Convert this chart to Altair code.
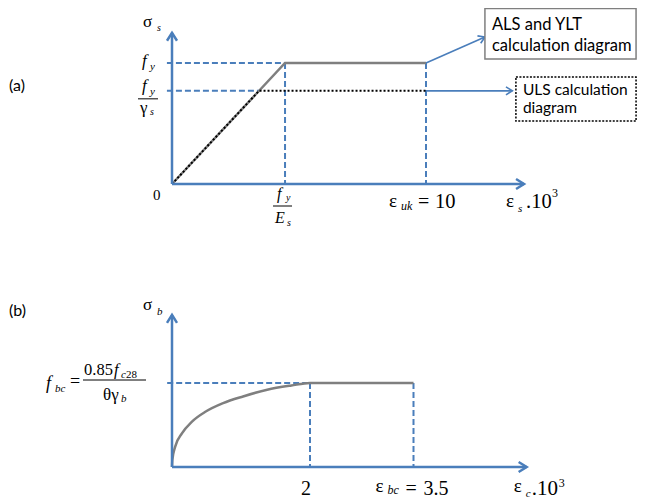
import math
import altair as alt
import pandas as pd

# ---------------- values ----------------
# (a) steel: stress in units of f_y, strain in 1e-3 (sketch, not to scale)
A_FY = 1.0            # f_y
A_FY_GS = 0.77        # f_y / gamma_s
A_EPS_Y = 4.45        # f_y / E_s
A_EPS_UK = 10.0       # eps_uk
A_AXIS_END = [13.86, 1.25]
A_BOX1 = [12.32, 18.27, 1.033, 1.45]   # x, x2, y, y2
A_BOX2 = [13.54, 18.27, 0.52, 0.884]
A_ARROW1_TIP = [12.32, 1.215]
A_ARROW2_TIP = [13.4, 0.77]

# (b) concrete: parabola-rectangle diagram
B_EPS = [0, 0.005, 0.045, 0.144, 0.29, 0.49, 0.74, 1.03, 1.38, 1.73, 2.0, 3.5]
B_SIG = [0, 0.086, 0.24, 0.40, 0.54, 0.66, 0.76, 0.84, 0.92, 0.97, 1.0, 1.0]
B_FBC = 1.0
B_EPS_C2 = 2.0
B_EPS_BC = 3.5
B_AXIS_END = [5.14, 1.81]

# ---------------- style ----------------
SERIF = "Liberation Serif"
SANS = "Lato"
BLUE = "#4A7EBB"
GRAY = "#7F7F7F"
HEAD = "M-1.6,-1L0,0L-1.6,1"
W, H = 629, 494
DASH = dict(color=BLUE, strokeWidth=2, strokeDash=[6, 3])


class Panel:
    def __init__(self, origin, kx, ky):
        self.kx, self.ky = kx, ky
        x0 = -origin[0] / kx
        y1 = origin[1] / ky
        self.sx = alt.Scale(domain=[x0, x0 + W / kx], nice=False, zero=False)
        self.sy = alt.Scale(domain=[y1 - H / ky, y1], nice=False, zero=False)
        self.layers = []

    def enc(self, **extra):
        return dict(x=alt.X("x:Q", scale=self.sx, axis=None),
                    y=alt.Y("y:Q", scale=self.sy, axis=None), **extra)

    def path(self, xs, ys, **mk):
        df = pd.DataFrame({"x": xs, "y": ys, "i": list(range(len(xs)))})
        self.layers.append(alt.Chart(df).mark_line(**mk).encode(**self.enc(order="i:Q")))

    def segs(self, rows, **mk):
        df = pd.DataFrame(rows, columns=["x", "y", "x2", "y2"])
        self.layers.append(alt.Chart(df).mark_rule(**mk).encode(**self.enc(x2="x2:Q", y2="y2:Q")))

    def heads(self, rows, size, **mk):
        df = pd.DataFrame(rows, columns=["x", "y", "a"])
        self.layers.append(
            alt.Chart(df).mark_point(shape=HEAD, filled=False, size=size, opacity=1, **mk)
            .encode(**self.enc(angle=alt.Angle("a:Q", scale=None))))

    def box(self, b, **mk):
        df = pd.DataFrame([{"x": b[0], "x2": b[1], "y": b[2], "y2": b[3]}])
        self.layers.append(alt.Chart(df).mark_rect(fill="white", **mk)
                           .encode(**self.enc(x2="x2:Q", y2="y2:Q")))

    def at(self, anchor, dx, dy):
        return anchor[0] + dx / self.kx, anchor[1] - dy / self.ky

    def frac(self, anchor, dx1, dx2, dy):
        a = self.at(anchor, dx1, dy)
        b = self.at(anchor, dx2, dy)
        self.segs([(a[0], a[1], b[0], b[1])], color="black", strokeWidth=1)

    def text(self, anchor, dx, dy, txt, size, italic=False, font=SERIF):
        x, y = self.at(anchor, dx, dy)
        df = pd.DataFrame({"x": [x], "y": [y], "t": [txt]})
        mk = dict(font=font, fontSize=size, align="left", baseline="alphabetic", color="black")
        if italic:
            mk["fontStyle"] = "italic"
        self.layers.append(alt.Chart(df).mark_text(**mk).encode(**self.enc(text="t:N")))

    def angle(self, p, q):
        return math.degrees(math.atan2(-(q[1] - p[1]) * self.ky, (q[0] - p[0]) * self.kx)) % 360


# ---------------- panel (a) ----------------
A = Panel((164, 176), 25.4, 121)
A.segs([(-0.2, A_FY, A_EPS_Y, A_FY),
        (-0.2, A_FY_GS, A_EPS_Y * A_FY_GS, A_FY_GS),
        (A_EPS_Y, A_FY, A_EPS_Y, 0),
        (A_EPS_UK, A_FY, A_EPS_UK, 0)], **DASH)
A.path([0, A_EPS_Y, A_EPS_UK], [0, A_FY, A_FY], color=GRAY, strokeWidth=2.5)
A.path([0, A_EPS_Y * A_FY_GS, A_EPS_UK], [0, A_FY_GS, A_FY_GS],
       color="black", strokeWidth=2, strokeDash=[2, 2])
A.segs([(0, 0, A_AXIS_END[0], 0), (0, 0, 0, A_AXIS_END[1])], color=BLUE, strokeWidth=2.5)
A.heads([(A_AXIS_END[0], 0, 0), (0, A_AXIS_END[1], 270)], 100, color=BLUE, strokeWidth=2.5)
A.segs([(A_EPS_UK, A_FY, *A_ARROW1_TIP), (A_EPS_UK, A_FY_GS, *A_ARROW2_TIP)],
       color=BLUE, strokeWidth=1.6)
A.heads([(*A_ARROW1_TIP, A.angle((A_EPS_UK, A_FY), A_ARROW1_TIP)), (*A_ARROW2_TIP, 0)],
        64, color=BLUE, strokeWidth=1.6)
A.box(A_BOX1, stroke=GRAY, strokeWidth=1.5)
A.box(A_BOX2, stroke="black", strokeWidth=1.5, strokeDash=[2, 1.5])

AO = (0, 0)
AYT = (0, A_AXIS_END[1])
AFY = (0, A_FY)
AFG = (0, A_FY_GS)
AEY = (A_EPS_Y, 0)
AEU = (A_EPS_UK, 0)
AXE = (A_AXIS_END[0], 0)
AB1 = (A_BOX1[0], A_BOX1[3])
AB2 = (A_BOX2[0], A_BOX2[3])

A_LABELS = [
    (AO, -163, -93, "(a)", 16, False, SANS),
    (AYT, -29, -6, "σ", 17, False, SERIF),
    (AYT, -15, -2, "s", 10, True, SERIF),
    (AFY, -30, 3, "f", 17, True, SERIF),
    (AFY, -22, 7, "y", 11, True, SERIF),
    (AFG, -30, 0, "f", 17, True, SERIF),
    (AFG, -22, 4, "y", 11, True, SERIF),
    (AFG, -32, 22.5, "γ", 17, False, SERIF),
    (AFG, -22, 24, "s", 10, True, SERIF),
    (AO, -19, 16, "0", 15, False, SERIF),
    (AEY, -8, 15, "f", 16, True, SERIF),
    (AEY, 1, 17, "y", 10, True, SERIF),
    (AEY, -10, 39, "E", 16, True, SERIF),
    (AEY, 2, 42, "s", 10, True, SERIF),
    (AEU, -37, 23, "ε", 19, False, SERIF),
    (AEU, -25, 26, "uk", 12, True, SERIF),
    (AEU, -8, 24, "=", 20, False, SERIF),
    (AEU, 9, 24, "10", 20.5, False, SERIF),
    (AXE, -18, 23, "ε", 19, False, SERIF),
    (AXE, -6, 28, "s", 11, True, SERIF),
    (AXE, 2, 24, ".10", 20.5, False, SERIF),
    (AXE, 28, 13, "3", 12, False, SERIF),
    (AB1, 7, 21, "ALS and YLT", 16.5, False, SANS),
    (AB1, 7, 42, "calculation diagram", 16.5, False, SANS),
    (AB2, 7, 18, "ULS calculation", 15.5, False, SANS),
    (AB2, 7, 36, "diagram", 15.5, False, SANS),
]
for lab in A_LABELS:
    A.text(*lab)
A.frac(AFG, -34, -14, 8)
A.frac(AEY, -12, 7, 22)

# ---------------- panel (b) ----------------
B = Panel((164, 459), 69.0, 84)
B.segs([(-0.07, B_FBC, B_EPS_C2, B_FBC),
        (B_EPS_C2, B_FBC, B_EPS_C2, 0),
        (B_EPS_BC, B_FBC, B_EPS_BC, 0)], **DASH)
B.path(B_EPS, B_SIG, color=GRAY, strokeWidth=2.5, interpolate="monotone")
B.segs([(0, 0, B_AXIS_END[0], 0), (0, 0, 0, B_AXIS_END[1])], color=BLUE, strokeWidth=2.5)
B.heads([(B_AXIS_END[0], 0, 0), (0, B_AXIS_END[1], 270)], 100, color=BLUE, strokeWidth=2.5)

BO = (0, 0)
BYT = (0, B_AXIS_END[1])
BF = (0, B_FBC)
BE2 = (B_EPS_C2, 0)
BEB = (B_EPS_BC, 0)
BXE = (B_AXIS_END[0], 0)

B_LABELS = [
    (BO, -163, -151, "(b)", 16, False, SANS),
    (BYT, -29, -5, "σ", 17, False, SERIF),
    (BYT, -15, 0, "b", 11, True, SERIF),
    (BF, -126, 6, "f", 18, True, SERIF),
    (BF, -117, 9, "bc", 11, True, SERIF),
    (BF, -102, 4, "=", 18, False, SERIF),
    (BF, -88, -8, "0.85", 16.5, False, SERIF),
    (BF, -58, -8, "f", 16.5, True, SERIF),
    (BF, -51, -5, "c", 11, True, SERIF),
    (BF, -46, -5, "28", 11, False, SERIF),
    (BF, -69, 17, "θγ", 17, False, SERIF),
    (BF, -51, 19, "b", 11, True, SERIF),
    (BE2, -9, 28, "2", 20, False, SERIF),
    (BEB, -38, 25, "ε", 19, False, SERIF),
    (BEB, -26, 27, "bc", 12, True, SERIF),
    (BEB, -8, 28, "=", 20, False, SERIF),
    (BEB, 10, 28, "3.5", 20, False, SERIF),
    (BXE, -13, 25, "ε", 19, False, SERIF),
    (BXE, -1, 30, "c", 11, True, SERIF),
    (BXE, 5, 28, ".10", 21, False, SERIF),
    (BXE, 32, 20, "3", 12, False, SERIF),
]
for lab in B_LABELS:
    B.text(*lab)
B.frac(BF, -89, -26, -3)

chart = (
    alt.layer(alt.layer(*A.layers), alt.layer(*B.layers))
    .resolve_scale(x="independent", y="independent")
    .properties(width=W, height=H, padding=0, background="white",
                autosize=alt.AutoSizeParams(type="none"))
    .configure_view(stroke=None)
)

chart.save("out.html", embed_options={"renderer": "svg", "actions": False})
